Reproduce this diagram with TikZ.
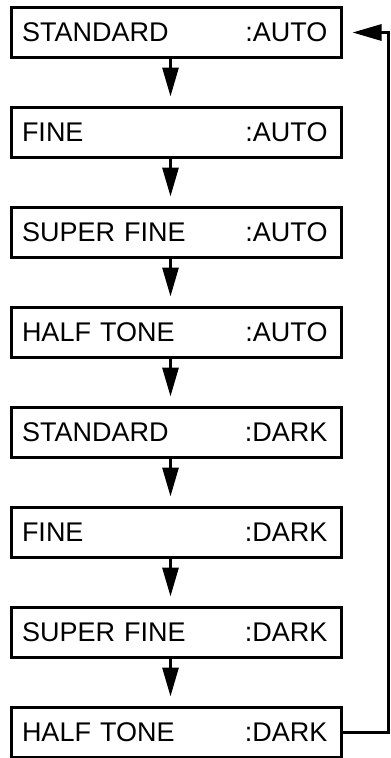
\documentclass[tikz,border=0pt]{standalone}
\usepackage{fontspec}
\setmainfont{Liberation Sans}
\usepackage{tikz}
\usetikzlibrary{arrows.meta,positioning}
\newcommand{\ModeRow}[2]{\hspace*{-3.5pt}#1\hfill#2\hspace*{3.5pt}}

\begin{document}
\begin{tikzpicture}[x=1pt,y=1pt,
  mode/.style={draw,line width=3pt,minimum width=330pt,minimum height=50pt,text width=302pt,inner sep=0pt,font=\fontsize{27}{30}\selectfont},
  arr/.style={-{Triangle[length=29pt,width=16pt]},line width=3pt,shorten >=9.5pt},
]
\useasboundingbox (0,0) rectangle (391,-758);
\node[mode] (stdauto) at (176.5,-32.5) {\ModeRow{STANDARD}{:AUTO}};
\node[mode,below=47pt of stdauto] (fineauto) {\ModeRow{FINE}{:AUTO}};
\node[mode,below=47pt of fineauto] (superauto) {\ModeRow{SUPER FINE}{:AUTO}};
\node[mode,below=47pt of superauto] (halfauto) {\ModeRow{HALF TONE}{:AUTO}};
\node[mode,below=47pt of halfauto] (stddark) {\ModeRow{STANDARD}{:DARK}};
\node[mode,below=47pt of stddark] (finedark) {\ModeRow{FINE}{:DARK}};
\node[mode,below=47pt of finedark] (superdark) {\ModeRow{SUPER FINE}{:DARK}};
\node[mode,below=47pt of superdark] (halfdark) {\ModeRow{HALF TONE}{:DARK}};
\draw[arr] ([xshift=-6pt]stdauto.south) -- ([xshift=-6pt]fineauto.north);
\draw[arr] ([xshift=-6pt]fineauto.south) -- ([xshift=-6pt]superauto.north);
\draw[arr] ([xshift=-6pt]superauto.south) -- ([xshift=-6pt]halfauto.north);
\draw[arr] ([xshift=-6pt]halfauto.south) -- ([xshift=-6pt]stddark.north);
\draw[arr] ([xshift=-6pt]stddark.south) -- ([xshift=-6pt]finedark.north);
\draw[arr] ([xshift=-6pt]finedark.south) -- ([xshift=-6pt]superdark.north);
\draw[arr] ([xshift=-6pt]superdark.south) -- ([xshift=-6pt]halfdark.north);
\draw[arr] (halfdark.east) -- ++(45pt,0) |- (stdauto.east);
\end{tikzpicture}
\end{document}
